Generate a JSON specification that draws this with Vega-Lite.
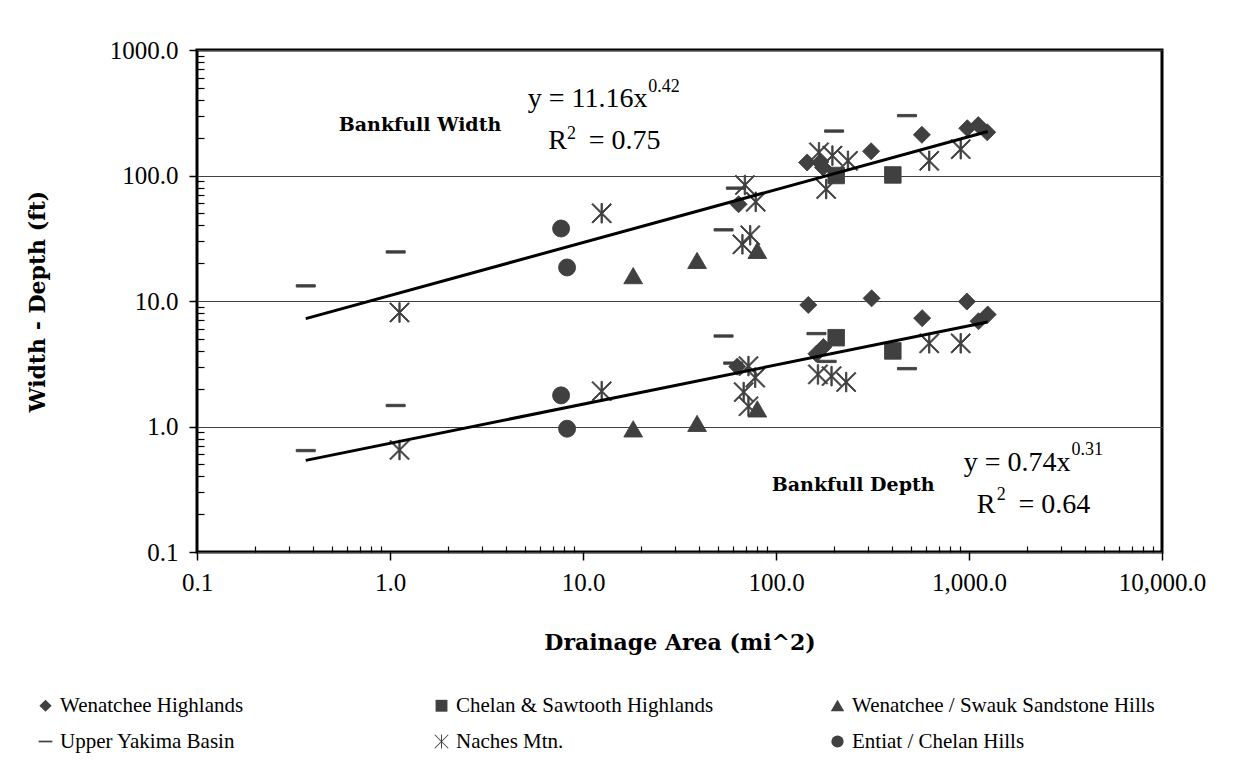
{
  "$schema": "https://vega.github.io/schema/vega-lite/v6.json",
  "width": 965,
  "height": 502,
  "autosize": {"type": "none"},
  "padding": {"left": 197, "top": 50, "right": 74, "bottom": 208},
  "background": "white",
  "config": {
    "view": {"stroke": "black", "strokeWidth": 3},
    "font": "Liberation Serif"
  },
  "datasets": {
    "points": [
      {"region": "Wenatchee Highlands", "measure": "Width", "area": 64, "value": 59},
      {"region": "Wenatchee Highlands", "measure": "Width", "area": 145, "value": 127},
      {"region": "Wenatchee Highlands", "measure": "Width", "area": 169, "value": 127},
      {"region": "Wenatchee Highlands", "measure": "Width", "area": 175, "value": 116},
      {"region": "Wenatchee Highlands", "measure": "Width", "area": 311, "value": 156},
      {"region": "Wenatchee Highlands", "measure": "Width", "area": 570, "value": 211},
      {"region": "Wenatchee Highlands", "measure": "Width", "area": 980, "value": 238},
      {"region": "Wenatchee Highlands", "measure": "Width", "area": 1117, "value": 252},
      {"region": "Wenatchee Highlands", "measure": "Width", "area": 1243, "value": 221},
      {"region": "Wenatchee Highlands", "measure": "Depth", "area": 63, "value": 3.0},
      {"region": "Wenatchee Highlands", "measure": "Depth", "area": 147, "value": 9.3},
      {"region": "Wenatchee Highlands", "measure": "Depth", "area": 162, "value": 3.8},
      {"region": "Wenatchee Highlands", "measure": "Depth", "area": 176, "value": 4.3},
      {"region": "Wenatchee Highlands", "measure": "Depth", "area": 313, "value": 10.5},
      {"region": "Wenatchee Highlands", "measure": "Depth", "area": 572, "value": 7.3},
      {"region": "Wenatchee Highlands", "measure": "Depth", "area": 975, "value": 9.9},
      {"region": "Wenatchee Highlands", "measure": "Depth", "area": 1120, "value": 6.9},
      {"region": "Wenatchee Highlands", "measure": "Depth", "area": 1250, "value": 7.8},
      {"region": "Chelan & Sawtooth Highlands", "measure": "Width", "area": 205, "value": 100},
      {"region": "Chelan & Sawtooth Highlands", "measure": "Width", "area": 403, "value": 101},
      {"region": "Chelan & Sawtooth Highlands", "measure": "Depth", "area": 205, "value": 5.1},
      {"region": "Chelan & Sawtooth Highlands", "measure": "Depth", "area": 403, "value": 4.0},
      {"region": "Wenatchee / Swauk Sandstone Hills", "measure": "Width", "area": 18.2, "value": 15.8},
      {"region": "Wenatchee / Swauk Sandstone Hills", "measure": "Width", "area": 39, "value": 20.9},
      {"region": "Wenatchee / Swauk Sandstone Hills", "measure": "Width", "area": 80, "value": 25.1},
      {"region": "Wenatchee / Swauk Sandstone Hills", "measure": "Depth", "area": 18.2, "value": 0.95},
      {"region": "Wenatchee / Swauk Sandstone Hills", "measure": "Depth", "area": 39, "value": 1.05},
      {"region": "Wenatchee / Swauk Sandstone Hills", "measure": "Depth", "area": 80, "value": 1.37},
      {"region": "Upper Yakima Basin", "measure": "Width", "area": 0.366, "value": 13.2},
      {"region": "Upper Yakima Basin", "measure": "Width", "area": 1.07, "value": 24.6},
      {"region": "Upper Yakima Basin", "measure": "Width", "area": 53.5, "value": 36.9},
      {"region": "Upper Yakima Basin", "measure": "Width", "area": 62, "value": 79.3},
      {"region": "Upper Yakima Basin", "measure": "Width", "area": 200, "value": 226},
      {"region": "Upper Yakima Basin", "measure": "Width", "area": 477, "value": 300},
      {"region": "Upper Yakima Basin", "measure": "Depth", "area": 0.366, "value": 0.643},
      {"region": "Upper Yakima Basin", "measure": "Depth", "area": 1.07, "value": 1.47},
      {"region": "Upper Yakima Basin", "measure": "Depth", "area": 53.5, "value": 5.26},
      {"region": "Upper Yakima Basin", "measure": "Depth", "area": 60, "value": 3.2},
      {"region": "Upper Yakima Basin", "measure": "Depth", "area": 162, "value": 5.5},
      {"region": "Upper Yakima Basin", "measure": "Depth", "area": 183, "value": 3.3},
      {"region": "Upper Yakima Basin", "measure": "Depth", "area": 477, "value": 2.89},
      {"region": "Naches Mtn.", "measure": "Width", "area": 1.12, "value": 8.1},
      {"region": "Naches Mtn.", "measure": "Width", "area": 12.5, "value": 50},
      {"region": "Naches Mtn.", "measure": "Width", "area": 69, "value": 84},
      {"region": "Naches Mtn.", "measure": "Width", "area": 78.5, "value": 61.7},
      {"region": "Naches Mtn.", "measure": "Width", "area": 73.5, "value": 33.4},
      {"region": "Naches Mtn.", "measure": "Width", "area": 67, "value": 28.3},
      {"region": "Naches Mtn.", "measure": "Width", "area": 167, "value": 153},
      {"region": "Naches Mtn.", "measure": "Width", "area": 196, "value": 144},
      {"region": "Naches Mtn.", "measure": "Width", "area": 236, "value": 131},
      {"region": "Naches Mtn.", "measure": "Width", "area": 182, "value": 78},
      {"region": "Naches Mtn.", "measure": "Width", "area": 622, "value": 131},
      {"region": "Naches Mtn.", "measure": "Width", "area": 906, "value": 162},
      {"region": "Naches Mtn.", "measure": "Depth", "area": 1.12, "value": 0.65},
      {"region": "Naches Mtn.", "measure": "Depth", "area": 12.5, "value": 1.91},
      {"region": "Naches Mtn.", "measure": "Depth", "area": 72, "value": 3.03},
      {"region": "Naches Mtn.", "measure": "Depth", "area": 78, "value": 2.45},
      {"region": "Naches Mtn.", "measure": "Depth", "area": 68, "value": 1.88},
      {"region": "Naches Mtn.", "measure": "Depth", "area": 72, "value": 1.45},
      {"region": "Naches Mtn.", "measure": "Depth", "area": 165, "value": 2.6},
      {"region": "Naches Mtn.", "measure": "Depth", "area": 194, "value": 2.52},
      {"region": "Naches Mtn.", "measure": "Depth", "area": 231, "value": 2.26},
      {"region": "Naches Mtn.", "measure": "Depth", "area": 622, "value": 4.6},
      {"region": "Naches Mtn.", "measure": "Depth", "area": 906, "value": 4.6},
      {"region": "Entiat / Chelan Hills", "measure": "Width", "area": 7.7, "value": 37.8},
      {"region": "Entiat / Chelan Hills", "measure": "Width", "area": 8.27, "value": 18.5},
      {"region": "Entiat / Chelan Hills", "measure": "Depth", "area": 7.7, "value": 1.77},
      {"region": "Entiat / Chelan Hills", "measure": "Depth", "area": 8.27, "value": 0.96}
    ],
    "trend": [
      {"series": "Width", "area": 0.366, "value": 7.24},
      {"series": "Width", "area": 1250, "value": 224},
      {"series": "Depth", "area": 0.366, "value": 0.537},
      {"series": "Depth", "area": 1250, "value": 6.8}
    ],
    "boldLabels": [
      {"text": "Bankfull Width", "area": 1.43, "value": 253},
      {"text": "Bankfull Depth", "area": 251, "value": 0.34}
    ],
    "eqRight": [
      {"text": "y = 11.16x", "area": 21.6, "value": 352},
      {"text": "= 0.75", "area": 25.2, "value": 162.5},
      {"text": "y = 0.74x", "area": 3357, "value": 0.44},
      {"text": "= 0.64", "area": 4250, "value": 0.205}
    ],
    "eqLeft": [
      {"text": "R", "area": 6.6, "value": 162.5},
      {"text": "R", "area": 1097, "value": 0.205}
    ],
    "sups": [
      {"text": "0.42", "area": 21.8, "value": 463},
      {"text": "2", "area": 8.27, "value": 195},
      {"text": "0.31", "area": 3396, "value": 0.598},
      {"text": "2", "area": 1394, "value": 0.2615}
    ]
  },
  "layer": [
    {
      "data": {"name": "points"},
      "mark": {"type": "point", "filled": true, "color": "#404040", "stroke": "#404040", "strokeWidth": 0.9, "opacity": 1, "size": 290},
      "encoding": {
        "x": {
          "field": "area", "type": "quantitative",
          "scale": {"type": "log", "domain": [0.1, 10000], "nice": false},
          "axis": {
            "orient": "bottom",
            "values": [0.1, 1, 10, 100, 1000, 10000],
            "format": ",.1f",
            "labelFont": "Liberation Serif", "labelFontSize": 25, "labelColor": "black",
            "labelFlush": false, "labelOverlap": false, "labelPadding": 10,
            "tickSize": 8, "tickColor": "black", "tickWidth": 1.5,
            "domain": false, "grid": false,
            "title": "Drainage Area (mi^2)",
            "titleFont": "DejaVu Serif", "titleFontSize": 22, "titleFontWeight": "bold", "titleColor": "black",
            "titlePadding": 37
          }
        },
        "y": {
          "field": "value", "type": "quantitative",
          "scale": {"type": "log", "domain": [0.1, 1000], "nice": false},
          "axis": {
            "orient": "left",
            "values": [0.1, 1, 10, 100, 1000],
            "format": ".1f",
            "labelFont": "Liberation Serif", "labelFontSize": 25, "labelColor": "black",
            "labelOverlap": false, "labelPadding": 11,
            "tickSize": 8, "tickColor": "black", "tickWidth": 1.5,
            "domain": false,
            "grid": true, "gridColor": "#404040", "gridWidth": 1,
            "title": "Width - Depth (ft)",
            "titleFont": "DejaVu Serif", "titleFontSize": 22, "titleFontWeight": "bold", "titleColor": "black",
            "titlePadding": 60
          }
        },
        "shape": {
          "field": "region", "type": "nominal",
          "scale": {
            "domain": ["Wenatchee Highlands", "Chelan & Sawtooth Highlands", "Wenatchee / Swauk Sandstone Hills", "Upper Yakima Basin", "Naches Mtn.", "Entiat / Chelan Hills"],
            "range": [
              "M0,-1L1,0L0,1L-1,0Z",
              "M-0.97,-0.97H0.97V0.97H-0.97Z",
              "M0,-1L1.1,0.9H-1.1Z",
              "M-1.12,-0.14H1.12V0.14H-1.12Z",
              "M-0.08,-1.15H0.08V1.15H-0.08Z M-1.043,-1.157L1.157,1.043L1.043,1.157L-1.157,-1.043Z M-1.157,1.043L1.043,-1.157L1.157,-1.043L-1.043,1.157Z",
              "circle"
            ]
          },
          "legend": {
            "title": null,
            "orient": "none",
            "direction": "horizontal",
            "legendX": -162,
            "legendY": 645,
            "columns": 3,
            "gridAlign": "all",
            "labelFont": "Liberation Serif",
            "labelFontSize": 21,
            "labelColor": "black",
            "labelLimit": 600,
            "labelOffset": 4,
            "symbolSize": 150,
            "symbolFillColor": "#404040",
            "symbolStrokeColor": "#404040",
            "symbolStrokeWidth": 1,
            "symbolOpacity": 1,
            "rowPadding": 14,
            "columnPadding": 68
          }
        }
      }
    },
    {
      "data": {"name": "trend"},
      "mark": {"type": "line", "color": "black", "strokeWidth": 3},
      "encoding": {
        "x": {
          "field": "area", "type": "quantitative",
          "axis": {
            "orient": "bottom",
            "values": [0.2, 0.3, 0.4, 0.5, 0.6, 0.7, 0.8, 0.9, 2, 3, 4, 5, 6, 7, 8, 9, 20, 30, 40, 50, 60, 70, 80, 90, 200, 300, 400, 500, 600, 700, 800, 900, 2000, 3000, 4000, 5000, 6000, 7000, 8000, 9000],
            "labels": false, "domain": false, "grid": false, "title": null,
            "tickSize": -6, "tickColor": "black", "tickWidth": 1.2
          }
        },
        "y": {
          "field": "value", "type": "quantitative",
          "axis": {
            "orient": "left",
            "values": [0.2, 0.3, 0.4, 0.5, 0.6, 0.7, 0.8, 0.9, 2, 3, 4, 5, 6, 7, 8, 9, 20, 30, 40, 50, 60, 70, 80, 90, 200, 300, 400, 500, 600, 700, 800, 900],
            "labels": false, "domain": false, "grid": false, "title": null,
            "tickSize": -7, "tickColor": "black", "tickWidth": 1.2
          }
        },
        "detail": {"field": "series", "type": "nominal"}
      }
    },
    {
      "data": {"name": "boldLabels"},
      "mark": {"type": "text", "font": "DejaVu Serif", "fontSize": 19, "fontWeight": "bold", "color": "black", "align": "center", "baseline": "middle"},
      "encoding": {
        "x": {"field": "area", "type": "quantitative", "axis": null},
        "y": {"field": "value", "type": "quantitative", "axis": null},
        "text": {"field": "text"}
      }
    },
    {
      "data": {"name": "eqRight"},
      "mark": {"type": "text", "font": "Liberation Serif", "fontSize": 28, "color": "black", "align": "right", "baseline": "alphabetic"},
      "encoding": {
        "x": {"field": "area", "type": "quantitative", "axis": null},
        "y": {"field": "value", "type": "quantitative", "axis": null},
        "text": {"field": "text"}
      }
    },
    {
      "data": {"name": "eqLeft"},
      "mark": {"type": "text", "font": "Liberation Serif", "fontSize": 28, "color": "black", "align": "left", "baseline": "alphabetic"},
      "encoding": {
        "x": {"field": "area", "type": "quantitative", "axis": null},
        "y": {"field": "value", "type": "quantitative", "axis": null},
        "text": {"field": "text"}
      }
    },
    {
      "data": {"name": "sups"},
      "mark": {"type": "text", "font": "Liberation Serif", "fontSize": 18, "color": "black", "align": "left", "baseline": "alphabetic"},
      "encoding": {
        "x": {"field": "area", "type": "quantitative", "axis": null},
        "y": {"field": "value", "type": "quantitative", "axis": null},
        "text": {"field": "text"}
      }
    }
  ],
  "resolve": {"axis": {"x": "independent", "y": "independent"}}
}
